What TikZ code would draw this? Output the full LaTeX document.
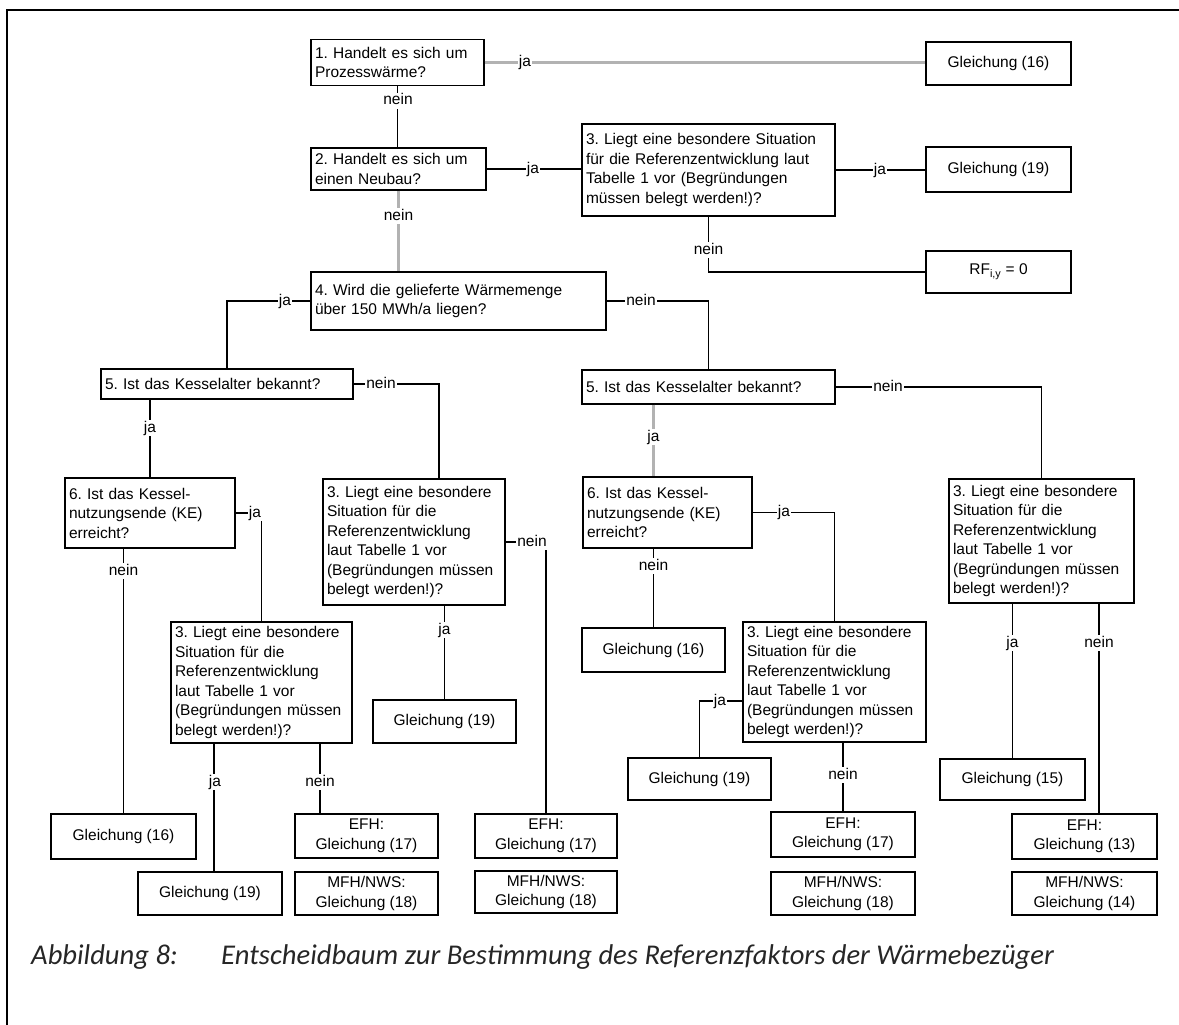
\documentclass[tikz,border=0pt]{standalone}
\usepackage{fontspec}
\setmainfont{Liberation Sans}
\newfontfamily\capfont{Carlito}
\usetikzlibrary{calc}
\newcommand{\dfont}{\fontsize{15.5}{19.5}\selectfont}
\frenchspacing
\begin{document}
\begin{tikzpicture}[x=1pt,y=-1pt,
  box/.style={draw, line width=1.4pt, inner xsep=4pt, inner ysep=2pt, font=\dfont, align=left},
  cbox/.style={draw, line width=1.4pt, inner sep=2pt, font=\dfont, align=center},
  conn/.style={line width=1.2pt},
  gconn/.style={line width=2.2pt, draw=gray!60},
  lab/.style={fill=white, inner sep=1pt, font=\dfont, text height=11pt, text depth=3pt},
  captxt/.style={anchor=base west, inner sep=0pt, font=\capfont\itshape\fontsize{28.6}{34}\selectfont, text=black!85}]
\useasboundingbox (0,0) rectangle (1179,1025);
\draw[line width=2.2pt] (1179,10) -- (7,10) -- (7,1025);

% nodes
\node[box, text width=165pt, minimum height=46pt] (b1) at (397.5,62.5) {1. Handelt es sich um\\Prozesswärme?};
\node[cbox, minimum width=145pt, minimum height=43pt] (g16t) at (998.5,63.5) {Gleichung (16)};
\node[box, text width=167pt, minimum height=42pt] (b2) at (398.5,169) {2. Handelt es sich um\\einen Neubau?};
\node[box, text width=245pt, minimum height=92pt] (b3) at (708.5,170) {3. Liegt eine besondere Situation\\für die Referenzentwicklung laut\\Tabelle 1 vor (Begründungen\\müssen belegt werden!)?};
\node[cbox, minimum width=145pt, minimum height=45pt] (g19t) at (998.5,169.5) {Gleichung (19)};
\node[cbox, minimum width=145pt, minimum height=42pt] (rf) at (998.5,272) {RF\textsubscript{i,y} = 0};
\node[box, text width=287pt, minimum height=58pt] (b4) at (458.5,301) {4. Wird die gelieferte Wärmemenge\\über 150 MWh/a liegen?};
\node[box, text width=244pt, minimum height=30pt] (b5L) at (227,384) {5. Ist das Kesselalter bekannt?};
\node[box, text width=245pt, minimum height=34pt] (b5R) at (708.5,387) {5. Ist das Kesselalter bekannt?};
\node[box, text width=162pt, minimum height=70pt] (b6L) at (150,513) {6. Ist das Kessel-\\nutzungsende (KE)\\erreicht?};
\node[box, text width=161pt, minimum height=71pt] (b6R) at (667.5,512.5) {6. Ist das Kessel-\\nutzungsende (KE)\\erreicht?};
\node[box, text width=174pt, minimum height=126pt] (b3L) at (414,542) {3. Liegt eine besondere\\Situation für die\\Referenzentwicklung\\laut Tabelle 1 vor\\(Begründungen müssen\\belegt werden!)?};
\node[box, text width=177pt, minimum height=124pt] (b3R) at (1041.5,541) {3. Liegt eine besondere\\Situation für die\\Referenzentwicklung\\laut Tabelle 1 vor\\(Begründungen müssen\\belegt werden!)?};
\node[box, text width=173pt, minimum height=121pt] (b3LL) at (261.5,682.5) {3. Liegt eine besondere\\Situation für die\\Referenzentwicklung\\laut Tabelle 1 vor\\(Begründungen müssen\\belegt werden!)?};
\node[box, text width=175pt, minimum height=120pt] (b3RM) at (834.5,682) {3. Liegt eine besondere\\Situation für die\\Referenzentwicklung\\laut Tabelle 1 vor\\(Begründungen müssen\\belegt werden!)?};
\node[cbox, minimum width=143pt, minimum height=44pt] (g16M) at (653.5,650) {Gleichung (16)};
\node[cbox, minimum width=143pt, minimum height=43pt] (g19L) at (444.5,721.5) {Gleichung (19)};
\node[cbox, minimum width=143pt, minimum height=42pt] (g19RM) at (699.5,779) {Gleichung (19)};
\node[cbox, minimum width=145pt, minimum height=41pt] (g15) at (1012.5,779.5) {Gleichung (15)};
\node[cbox, minimum width=145pt, minimum height=45pt] (g16L) at (123.5,836.5) {Gleichung (16)};
\node[cbox, minimum width=143pt, minimum height=44pt] (efhL) at (366.5,836) {EFH:\\Gleichung (17)};
\node[cbox, minimum width=142pt, minimum height=44pt] (efhM) at (546,836) {EFH:\\Gleichung (17)};
\node[cbox, minimum width=144pt, minimum height=45pt] (efhR) at (843,834.5) {EFH:\\Gleichung (17)};
\node[cbox, minimum width=145pt, minimum height=45pt] (efh13) at (1084.5,836.5) {EFH:\\Gleichung (13)};
\node[cbox, minimum width=144pt, minimum height=43pt] (g19LL) at (210,893.5) {Gleichung (19)};
\node[cbox, minimum width=143pt, minimum height=43pt] (mfhL) at (366.5,893.5) {MFH/NWS:\\Gleichung (18)};
\node[cbox, minimum width=142pt, minimum height=42pt] (mfhM) at (546,892) {MFH/NWS:\\Gleichung (18)};
\node[cbox, minimum width=144pt, minimum height=43pt] (mfhR) at (843,893.5) {MFH/NWS:\\Gleichung (18)};
\node[cbox, minimum width=145pt, minimum height=43pt] (mfh14) at (1084.5,893.5) {MFH/NWS:\\Gleichung (14)};

% connectors
\draw[gconn] (b1.east) -- (b1.east -| g16t.west);
\draw[conn] (b1.south) -- (b1.south |- b2.north);
\draw[conn] (b2.east) -- (b2.east -| b3.west);
\draw[conn] (b3.east) -- (b3.east -| g19t.west);
\draw[conn] (b3.south) |- (rf.west);
\draw[gconn] (b2.south) -- (b2.south |- b4.north);
\draw[conn] (b4.west) -| (b5L.north);
\draw[conn] (b4.east) -| (b5R.north);
\draw[conn] (b6L.north |- b5L.south) -- (b6L.north);
\coordinate (c1) at ([xshift=25pt]b3L.north);
\draw[conn] (b5L.east) -| (c1);
\draw[conn] (b6L.east) -| (b3LL.north);
\draw[conn] (g16L.north |- b6L.south) -- (g16L.north);
\draw[conn] (g19L.north |- b3L.south) -- (g19L.north);
\draw[conn] (b3L.east) -| (efhM.north);
\coordinate (c2) at ([xshift=58.5pt]b3LL.south);
\draw[conn] (c2) -- (c2 |- efhL.north);
\coordinate (c3) at ([xshift=-47.5pt]b3LL.south);
\draw[conn] (c3) -- (c3 |- g19LL.north);
\draw[conn] (b5R.east) -| (b3R.north);
\draw[gconn] (g16M.north |- b5R.south) -- (g16M.north |- b6R.north);
\draw[conn] (b6R.east) -| (b3RM.north);
\draw[conn] (g16M.north |- b6R.south) -- (g16M.north);
\coordinate (c4) at ([yshift=-19pt]b3RM.west);
\draw[conn] (c4) -| (g19RM.north);
\draw[conn] (efhR.north |- b3RM.south) -- (efhR.north);
\draw[conn] (g15.north |- b3R.south) -- (g15.north);
\coordinate (c5) at ([xshift=14.5pt]efh13.north);
\draw[conn] (c5 |- b3R.south) -- (c5);

% labels
\node[lab] (l1) at (525,62.5) {ja};
\node[lab] (l2) at (398,101) {nein};
\node[lab] (l3) at (533,169) {ja};
\node[lab] (l4) at (880,170) {ja};
\node[lab] (l5) at (708.5,250) {nein};
\node[lab] (l6) at (398.5,216) {nein};
\node[lab] (l7) at (285,301) {ja};
\node[lab] (l8) at (641,301) {nein};
\node[lab] (l9) at (150,428) {ja};
\node[lab] (l10) at (381,384) {nein};
\node[lab] (l11) at (255,513) {ja};
\node[lab] (l12) at (123.5,571) {nein};
\node[lab] (l13) at (444.5,630) {ja};
\node[lab] (l14) at (532,542) {nein};
\node[lab] (l15) at (215,782) {ja};
\node[lab] (l16) at (320,782) {nein};
\node[lab] (l17) at (888,387) {nein};
\node[lab] (l18) at (653.5,437) {ja};
\node[lab] (l19) at (784,512.5) {ja};
\node[lab] (l20) at (653.5,566) {nein};
\node[lab] (l21) at (720,701) {ja};
\node[lab] (l22) at (843,775) {nein};
\node[lab] (l23) at (1012.5,643) {ja};
\node[lab] (l24) at (1099,643) {nein};

% caption
\node[captxt] (cap1) at (31,964) {Abbildung 8:};
\node[captxt] (cap2) at (221,964) {Entscheidbaum zur Bestimmung des Referenzfaktors der Wärmebezüger};
\end{tikzpicture}
\end{document}
